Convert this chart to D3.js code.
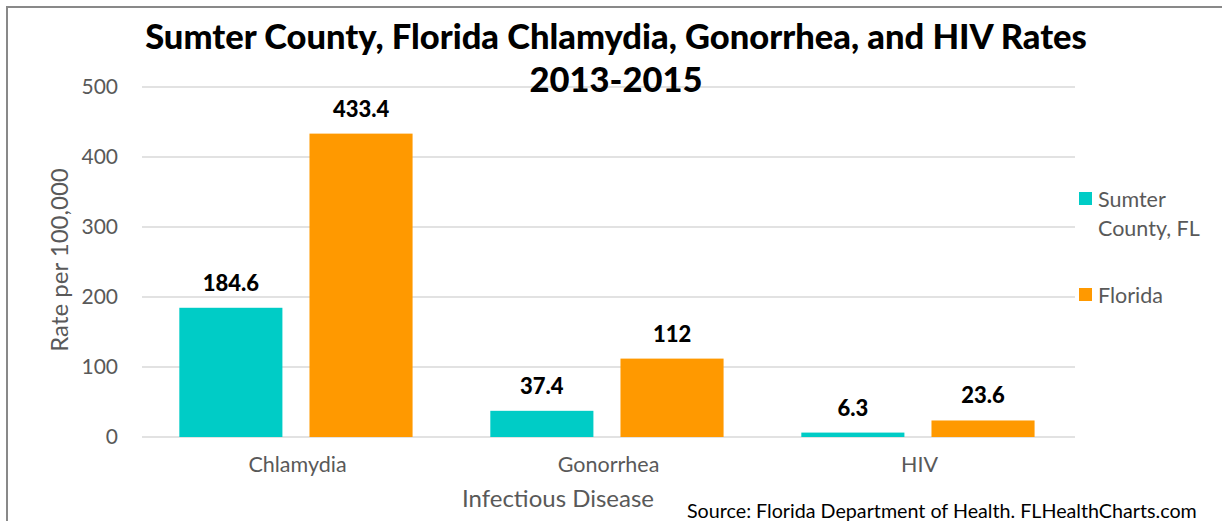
<!DOCTYPE html>
<html>
<head>
<meta charset="utf-8">
<script src="https://cdn.jsdelivr.net/npm/d3@7"></script>
<style>
  body { margin: 0; background: #fff; }
  svg text { font-family: Lato, "Open Sans", sans-serif; }
</style>
</head>
<body>
<div id="chart"></div>
<script>
const diseases = ["Chlamydia", "Gonorrhea", "HIV"];
const seriesNames = ["Sumter County, FL", "Florida"];
const sumterRates = [184.6, 37.4, 6.3];
const floridaRates = [433.4, 112, 23.6];
const yTicks = [0, 100, 200, 300, 400, 500];
const colors = ["#00CCC6", "#FF9900"];

function drawChart() {
    const W = 1222, H = 521;
    const margin = {top: 87, right: 147, bottom: 84, left: 142};
    const width = W - margin.left - margin.right,
        height = H - margin.top - margin.bottom;

    const svg = d3.select("#chart")
        .append("svg")
            .attr("width", W)
            .attr("height", H);

    // outer frame (only top and left edges show in the picture)
    svg.append("rect")
        .attr("x", 7)
        .attr("y", 7)
        .attr("width", W + 20)
        .attr("height", H + 20)
        .attr("fill", "none")
        .attr("stroke", "#898989")
        .attr("stroke-width", 2);

    const g = svg.append("g")
        .attr("transform", "translate(" + margin.left + "," + margin.top + ")");

    const rows = diseases.map((d, i) => ({
        disease: d,
        values: [sumterRates[i], floridaRates[i]]
    }));

    const x0 = d3.scaleBand()
        .domain(diseases)
        .range([0, width]);

    const x1 = d3.scaleBand()
        .domain(seriesNames)
        .range([x0.bandwidth() * 0.12, x0.bandwidth() * 0.87])
        .paddingInner(0.208);

    const y = d3.scaleLinear()
        .domain([0, 500])
        .range([height, 0]);

    // gridlines
    g.selectAll(".grid")
        .data(yTicks)
        .join("line")
            .attr("class", "grid")
            .attr("x1", 0)
            .attr("x2", width)
            .attr("y1", d => y(d))
            .attr("y2", d => y(d))
            .attr("stroke", "#d9d9d9")
            .attr("stroke-width", 1.5);

    // y axis labels
    const yAxis = g.append("g")
        .attr("class", "y-axis")
        .call(d3.axisLeft(y).tickValues(yTicks).tickSize(0).tickPadding(24));
    yAxis.select(".domain").remove();
    yAxis.selectAll("text")
        .style("font-size", "21px")
        .style("font-family", "Lato, sans-serif")
        .attr("fill", "#595959");

    // bars
    const groups = g.selectAll(".group")
        .data(rows)
        .join("g")
            .attr("class", "group")
            .attr("transform", d => "translate(" + x0(d.disease) + ",0)");

    groups.selectAll(".bar")
        .data(d => d.values.map((v, i) => ({key: seriesNames[i], value: v, i: i})))
        .join("rect")
            .attr("class", "bar")
            .attr("x", d => x1(d.key))
            .attr("y", d => y(d.value))
            .attr("width", x1.bandwidth())
            .attr("height", d => height - y(d.value))
            .attr("fill", d => colors[d.i]);

    groups.selectAll(".value")
        .data(d => d.values.map((v, i) => ({key: seriesNames[i], value: v})))
        .join("text")
            .attr("class", "value")
            .attr("x", d => x1(d.key) + x1.bandwidth() / 2)
            .attr("y", d => y(d.value) - 17)
            .style("text-anchor", "middle")
            .style("font-size", "22px")
            .style("font-weight", "900")
            .attr("fill", "#000")
            .text(d => d.value);

    // x axis labels
    const xAxis = g.append("g")
        .attr("transform", "translate(0," + height + ")")
        .call(d3.axisBottom(x0).tickSize(0).tickPadding(20));
    xAxis.select(".domain").remove();
    xAxis.selectAll("text")
        .style("font-size", "21.5px")
        .style("font-family", "Lato, sans-serif")
        .attr("fill", "#595959");

    // titles
    const titleLines = ["Sumter County, Florida Chlamydia, Gonorrhea, and HIV Rates", "2013-2015"];
    titleLines.forEach((t, i) => {
        svg.append("text")
            .attr("x", 616)
            .attr("y", 49 + i * 43)
            .style("text-anchor", "middle")
            .style("font-size", "34.5px")
            .style("font-weight", "900")
            .attr("fill", "#000")
            .text(t);
    });

    // axis titles
    svg.append("text")
        .attr("transform", "translate(68,260) rotate(-90)")
        .style("text-anchor", "middle")
        .style("font-size", "24px")
        .attr("fill", "#595959")
        .text("Rate per 100,000");

    svg.append("text")
        .attr("x", 558)
        .attr("y", 507)
        .style("text-anchor", "middle")
        .style("font-size", "24px")
        .attr("fill", "#595959")
        .text("Infectious Disease");

    svg.append("text")
        .attr("x", 687)
        .attr("y", 518)
        .style("font-size", "19.7px")
        .attr("fill", "#000")
        .text("Source: Florida Department of Health. FLHealthCharts.com");

    // legend
    const legend = svg.append("g")
        .attr("transform", "translate(1079,0)");
    const legendItems = [
        {lines: ["Sumter", "County, FL"], y: 192, color: colors[0]},
        {lines: ["Florida"], y: 288, color: colors[1]}
    ];
    legendItems.forEach(item => {
        legend.append("rect")
            .attr("x", 0)
            .attr("y", item.y)
            .attr("width", 13)
            .attr("height", 13)
            .attr("fill", item.color);
        item.lines.forEach((line, j) => {
            legend.append("text")
                .attr("x", 19)
                .attr("y", item.y + 15 + j * 29)
                .style("font-size", "21.5px")
                .attr("fill", "#595959")
                .text(line);
        });
    });
}

drawChart();
</script>
</body>
</html>
